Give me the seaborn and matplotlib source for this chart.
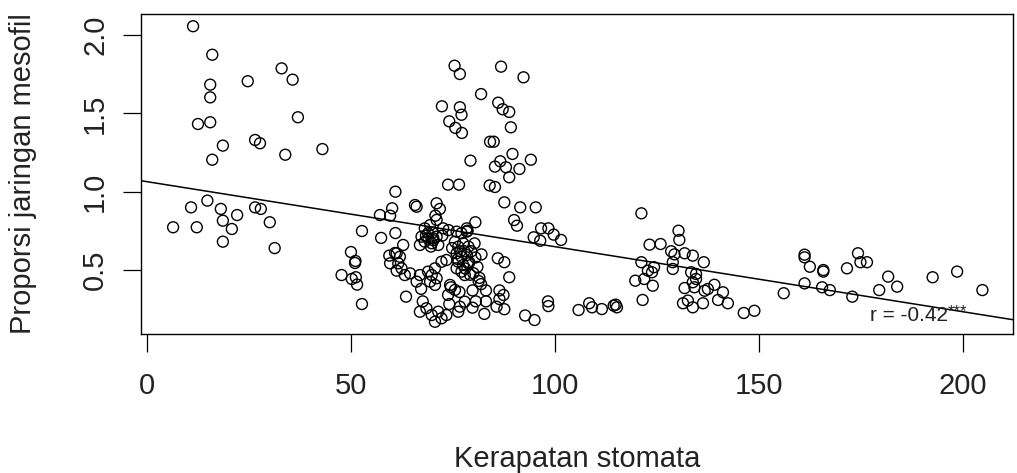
import numpy as np
import pandas as pd
import matplotlib
matplotlib.use("Agg")
import matplotlib.pyplot as plt
import seaborn as sns

# ---- data ----
kerapatan = [
    # x < 45
    11.3, 16.0, 24.7, 15.5, 15.5, 12.5, 15.5, 26.5, 27.7, 18.6, 16.0, 14.8, 10.8, 18.1, 22.1,
    18.6, 26.5, 27.9, 6.4, 12.2, 20.8, 18.6, 30.1, 31.3, 33.0, 35.7, 37.0, 33.9, 43.0,
    # 45 - 65
    60.9, 60.1, 57.1, 59.6, 60.9, 52.7, 57.4, 50.0, 51.1, 51.0, 47.7, 50.2, 51.2, 51.5, 52.7,
    59.4, 60.8, 61.2, 62.8, 61.2, 62.0, 59.6, 61.6, 62.4, 63.2, 64.5, 63.5, 65.7,
    # 65 - 84
    66.1, 71.0, 71.8, 70.7, 71.0, 69.4, 68.1, 67.3, 68.9, 70.2, 68.1, 66.9, 69.8, 71.4, 71.0,
    72.6, 73.9, 75.9, 77.1, 78.4, 78.4, 75.5, 76.3, 77.5, 78.8, 75.9, 77.1, 78.4, 76.3, 77.5,
    78.8, 75.9, 77.1, 77.9, 73.4, 72.2, 70.6, 69.8, 71.0, 69.4, 70.6, 68.9, 66.9, 66.1, 67.2,
    67.6, 74.3, 75.5, 73.8, 66.9, 68.5, 69.8, 71.4, 72.2, 73.4, 70.6, 76.7, 76.3, 77.9, 74.1,
    74.5, 76.6, 79.8, 80.6, 81.9, 83.1, 83.1, 79.8, 82.7, 78.6, 80.5, 75.4, 76.7, 72.3, 76.7,
    77.1, 74.1, 75.6, 77.2, 79.3, 73.8, 76.5, 81.9,
    79.5, 80.5, 81.0, 80.0, 81.5, 79.0, 82.0, 80.3, 81.3,
    69.0, 70.2, 72.4, 68.4, 77.8, 76.2, 78.0, 74.8, 79.2, 70.0, 76.8, 69.6,
    # 84 - 102
    86.8, 86.1, 87.2, 88.8, 89.2, 84.1, 85.0, 85.3, 86.6, 88.0, 88.8, 89.6, 84.0, 85.3, 87.6,
    90.0, 92.3, 91.3, 94.1, 91.5, 95.3, 90.7, 96.6, 98.4, 94.8, 96.4, 99.7, 101.5, 86.0, 87.6,
    88.8, 87.4, 85.7, 86.4, 87.6, 86.4, 98.3, 98.4, 92.7, 95.0,
    # 105 - 160
    105.8, 108.4, 109.1, 111.5, 114.4, 114.9, 115.2, 121.2, 121.2, 119.7, 121.5, 130.3, 130.5,
    123.2, 125.9, 128.5, 129.3, 131.8, 133.8, 128.9, 128.9, 136.5, 122.8, 124.3, 123.8, 121.9,
    124.0, 133.4, 134.6, 133.8, 134.6, 134.2, 131.8, 136.7, 137.5, 139.1, 141.2, 140.0, 142.4,
    131.4, 132.6, 133.8, 136.3, 146.3, 148.9, 156.1,
    # > 160
    161.2, 161.2, 162.5, 165.8, 165.8, 171.6, 174.3, 174.9, 176.5, 161.2, 165.5, 167.4, 172.9,
    179.5, 181.7, 183.9, 192.6, 198.6, 204.8,
]

proporsi = [
    # x < 45
    2.056, 1.874, 1.705, 1.683, 1.602, 1.432, 1.443, 1.330, 1.309, 1.294, 1.204, 0.943, 0.900, 0.890, 0.851,
    0.815, 0.900, 0.890, 0.773, 0.773, 0.762, 0.681, 0.805, 0.640, 1.787, 1.715, 1.475, 1.236, 1.272,
    # 45 - 65
    1.000, 0.894, 0.851, 0.847, 0.736, 0.749, 0.705, 0.615, 0.558, 0.545, 0.468, 0.443, 0.454, 0.407, 0.283,
    0.592, 0.609, 0.496, 0.660, 0.607, 0.585, 0.543, 0.543, 0.511, 0.468, 0.479, 0.330, 0.915,
    # 65 - 84
    0.904, 0.926, 0.890, 0.847, 0.820, 0.787, 0.766, 0.713, 0.735, 0.702, 0.681, 0.660, 0.671, 0.660, 0.713,
    0.766, 0.755, 0.745, 0.735, 0.745, 0.766, 0.681, 0.649, 0.671, 0.649, 0.607, 0.585, 0.596, 0.553, 0.532,
    0.543, 0.511, 0.490, 0.468, 0.564, 0.553, 0.511, 0.468, 0.447, 0.426, 0.405, 0.490, 0.468, 0.426, 0.380,
    0.300, 0.405, 0.373, 0.341, 0.234, 0.256, 0.213, 0.234, 0.192, 0.213, 0.170, 0.266, 0.234, 0.298, 0.283,
    0.390, 0.360, 0.370, 0.300, 0.410, 0.370, 0.300, 0.260, 0.220, 0.751, 0.805, 1.804, 1.751, 1.545, 1.539,
    1.491, 1.449, 1.407, 1.375, 1.198, 1.045, 1.045, 1.623,
    0.620, 0.580, 0.520, 0.480, 0.450, 0.550, 0.600, 0.670, 0.430,
    0.700, 0.690, 0.720, 0.720, 0.620, 0.570, 0.510, 0.640, 0.470, 0.740, 0.620, 0.650,
    # 84 - 102
    1.798, 1.568, 1.526, 1.509, 1.411, 1.319, 1.319, 1.160, 1.194, 1.156, 1.092, 1.241, 1.040, 1.030, 0.932,
    0.819, 1.730, 1.145, 1.204, 0.900, 0.900, 0.783, 0.766, 0.766, 0.709, 0.687, 0.726, 0.692, 0.575, 0.550,
    0.454, 0.341, 0.266, 0.315, 0.250, 0.370, 0.300, 0.270, 0.210, 0.181,
    # 105 - 160
    0.245, 0.288, 0.262, 0.251, 0.273, 0.279, 0.262, 0.862, 0.550, 0.432, 0.309, 0.751, 0.692,
    0.662, 0.666, 0.620, 0.600, 0.607, 0.592, 0.550, 0.507, 0.550, 0.496, 0.518, 0.486, 0.443,
    0.400, 0.486, 0.475, 0.422, 0.443, 0.390, 0.385, 0.368, 0.379, 0.406, 0.358, 0.309, 0.288,
    0.288, 0.305, 0.262, 0.288, 0.226, 0.240, 0.352,
    # > 160
    0.598, 0.581, 0.521, 0.500, 0.490, 0.511, 0.607, 0.550, 0.550, 0.415, 0.390, 0.372, 0.330,
    0.372, 0.458, 0.394, 0.454, 0.490, 0.372,
]

x_ticks = [0, 50, 100, 150, 200]
y_ticks = [0.5, 1.0, 1.5, 2.0]
y_tick_labels = ["0.5", "1.0", "1.5", "2.0"]

fit_intercept = 1.064
fit_slope = -0.00415

x_label = "Kerapatan stomata"
y_label = "Proporsi jaringan mesofil"
r_text = "r = -0.42"
r_stars = "***"

df = pd.DataFrame({"x": kerapatan, "y": proporsi})

# ---- drawing ----
sns.set_style("white")
plt.rcParams["font.family"] = ["Liberation Sans", "DejaVu Sans"]

W, H = 1017, 473
fig = plt.figure(figsize=(W / 100, H / 100), dpi=100)
left, right, top, bottom = 141, 1013, 14, 333.5
ax = fig.add_axes([left / W, 1 - bottom / H, (right - left) / W, (bottom - top) / H])

sns.scatterplot(data=df, x="x", y="y", ax=ax, marker="o", s=62, linewidth=1.0,
                color="black", legend=False)
coll = ax.collections[0]
coll.set_facecolor("none")
coll.set_edgecolor("black")
coll.set_linewidth(1.0)

ax.axline((0, fit_intercept), slope=fit_slope, color="black", linewidth=1.1)

ax.set_xlim(-1.47, 212.3)
ax.set_ylim(0.095, 2.134)

ax.set_xticks(x_ticks)
ax.set_xticklabels([str(t) for t in x_ticks])
ax.set_yticks(y_ticks)
ax.set_yticklabels(y_tick_labels, rotation=90, va="center")

ax.tick_params(axis="both", direction="out", length=13, width=0.9, color="black",
               labelsize=21, labelcolor="#222222", left=True, bottom=True)
ax.tick_params(axis="x", pad=15)
ax.tick_params(axis="y", pad=10)

for sp in ax.spines.values():
    sp.set_visible(True)
    sp.set_color("black")
    sp.set_linewidth(1.0)

ax.set_xlabel(x_label, fontsize=21, color="#222222", labelpad=32)
ax.set_ylabel(y_label, fontsize=21, color="#222222", labelpad=32)

ax.text(177.2, 0.207, r_text, fontsize=15, color="#222222", ha="left", va="center")
ax.text(196.3, 0.232, r_stars, fontsize=12, color="#222222", ha="left", va="center")

fig.savefig("out.png", dpi=100, facecolor="white")
